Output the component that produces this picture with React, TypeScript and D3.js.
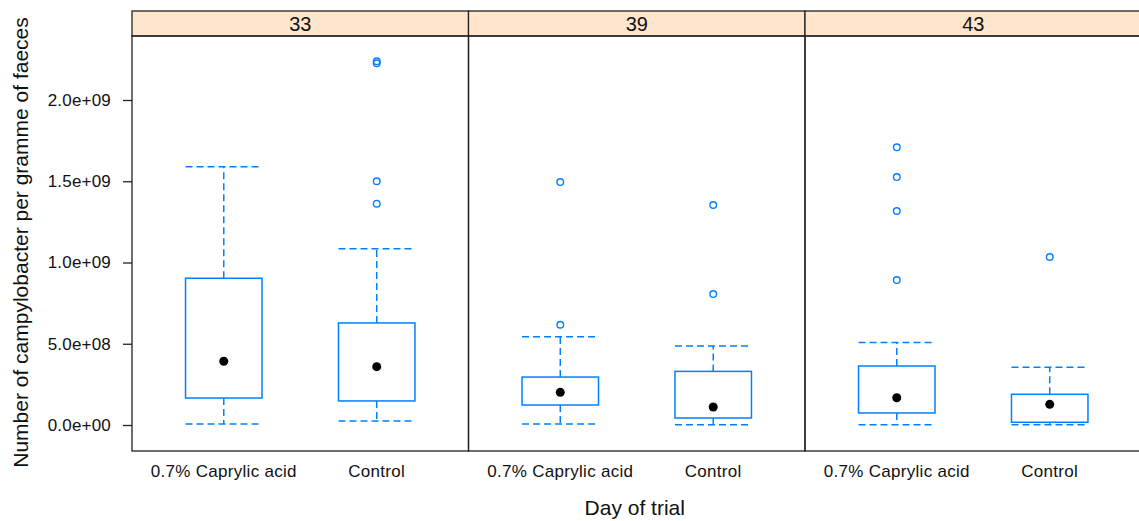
import React, { useRef, useEffect } from "react";
import * as d3 from "d3";

// day-of-trial panels and treatment groups
const days = ["33", "39", "43"];
const treatments = ["0.7% Caprylic acid", "Control"];

// box statistics, ordered day 33 (acid, control), day 39 (acid, control), day 43 (acid, control)
const lowerWhisker = [6e6, 2.5e7, 6e6, 1e6, 1e6, 1e6];
const lowerHinge = [1.66e8, 1.48e8, 1.23e8, 4.3e7, 7.4e7, 1.7e7];
const medians = [3.92e8, 3.59e8, 2.01e8, 1.11e8, 1.68e8, 1.27e8];
const upperHinge = [9.03e8, 6.28e8, 2.95e8, 3.3e8, 3.63e8, 1.89e8];
const upperWhisker = [1.59e9, 1.085e9, 5.43e8, 4.86e8, 5.07e8, 3.55e8];
const outliers = [
    [],
    [2.226e9, 2.238e9, 1.5e9, 1.362e9],
    [1.495e9, 6.17e8],
    [1.354e9, 8.06e8],
    [1.709e9, 1.526e9, 1.317e9, 8.92e8],
    [1.034e9],
];
const yTicks = [0, 5e8, 1e9, 1.5e9, 2e9];

const BLUE = "#0080ff";
const FONT = "'Liberation Sans', Arial, sans-serif";

function fmtSci(v) {
    // R-style "2.0e+09"
    const s = d3.format(".1e")(v); // e.g. 2.0e+9
    const [m, e] = s.split("e");
    const sign = e[0];
    const digits = e.slice(1).padStart(2, "0");
    return m + "e" + sign + digits;
}

function App() {
    const svgRef = useRef(null);

    useEffect(() => {
        const svg = d3.select(svgRef.current);
        svg.selectAll("*").remove();

        const left = 132, panelW = 336.5, stripTop = 11, top = 36, bottom = 451;

        const y = d3.scaleLinear().domain([0, 2e9]).range([425, 100]);

        days.forEach((day, p) => {
            const x0 = left + p * panelW;
            const x = d3.scaleLinear()
                .domain([0.4, 2.6])
                .range([x0, x0 + panelW]);
            const g = svg.append("g");

            // strip
            g.append("rect")
                .attr("x", x0).attr("y", stripTop)
                .attr("width", panelW).attr("height", top - stripTop)
                .attr("fill", "#ffe5cc")
                .attr("stroke", "#222").attr("stroke-width", 1.3);
            g.append("text")
                .attr("x", x0 + panelW / 2).attr("y", top - 5)
                .attr("text-anchor", "middle")
                .style("font-family", FONT).style("font-size", "20px")
                .attr("fill", "#111")
                .text(day);

            // panel border
            g.append("rect")
                .attr("x", x0).attr("y", top)
                .attr("width", panelW).attr("height", bottom - top)
                .attr("fill", "none")
                .attr("stroke", "#222").attr("stroke-width", 1.3);

            treatments.forEach((t, k) => {
                const i = p * 2 + k;
                const cx = x(k + 1);
                const half = x(k + 1.25) - cx;

                // whiskers
                g.append("line")
                    .attr("x1", cx).attr("x2", cx)
                    .attr("y1", y(upperHinge[i])).attr("y2", y(upperWhisker[i]))
                    .attr("stroke", BLUE).attr("stroke-width", 1.5).attr("stroke-dasharray", "7,4");
                g.append("line")
                    .attr("x1", cx).attr("x2", cx)
                    .attr("y1", y(lowerHinge[i])).attr("y2", y(lowerWhisker[i]))
                    .attr("stroke", BLUE).attr("stroke-width", 1.5).attr("stroke-dasharray", "7,4");
                [upperWhisker[i], lowerWhisker[i]].forEach(v => {
                    g.append("line")
                        .attr("x1", cx - half).attr("x2", cx + half)
                        .attr("y1", y(v)).attr("y2", y(v))
                        .attr("stroke", BLUE).attr("stroke-width", 1.5).attr("stroke-dasharray", "7,4");
                });

                // box
                g.append("rect")
                    .attr("x", cx - half).attr("y", y(upperHinge[i]))
                    .attr("width", 2 * half).attr("height", y(lowerHinge[i]) - y(upperHinge[i]))
                    .attr("fill", "white")
                    .attr("stroke", BLUE).attr("stroke-width", 1.5);

                // median dot
                g.append("circle")
                    .attr("cx", cx).attr("cy", y(medians[i])).attr("r", 4.5)
                    .attr("fill", "black");

                // outliers
                g.selectAll("circle.out" + i)
                    .data(outliers[i])
                    .enter()
                    .append("circle")
                    .attr("cx", cx).attr("cy", d => y(d)).attr("r", 3.3)
                    .attr("fill", "none")
                    .attr("stroke", BLUE).attr("stroke-width", 1.4);

                // category label
                g.append("text")
                    .attr("x", cx).attr("y", 477)
                    .attr("text-anchor", "middle")
                    .style("font-family", FONT).style("font-size", "17px")
                    .style("letter-spacing", "0.3px")
                    .attr("fill", "#111")
                    .text(t);
            });
        });

        // y axis on the first panel
        const yAxis = svg.append("g")
            .attr("transform", "translate(" + left + ",0)")
            .call(d3.axisLeft(y).tickValues(yTicks).tickSize(9).tickPadding(12).tickFormat(fmtSci));
        yAxis.select(".domain").remove();
        yAxis.selectAll("line").attr("stroke", "#222").attr("stroke-width", 1.3);
        yAxis.selectAll("text")
            .style("font-family", FONT).style("font-size", "17px")
            .style("letter-spacing", "0.2px")
            .attr("fill", "#111");

        // axis titles
        svg.append("text")
            .attr("x", (left + left + 3 * panelW) / 2 - 2).attr("y", 515)
            .attr("text-anchor", "middle")
            .style("font-family", FONT).style("font-size", "21px")
            .attr("fill", "#111")
            .text("Day of trial");
        svg.append("text")
            .attr("transform", "translate(28," + ((top + bottom) / 2 - 1) + ")rotate(-90)")
            .attr("text-anchor", "middle")
            .style("font-family", FONT).style("font-size", "21px")
            .attr("fill", "#111")
            .text("Number of campylobacter per gramme of faeces");

        return () => {
            d3.select(svgRef.current).selectAll("*").remove();
        };
    }, []);

    return (
        <svg ref={svgRef} width={1139} height={521}
            style={{ position: "absolute", left: 0, top: 0, background: "white" }} />
    );
}

export default App;
